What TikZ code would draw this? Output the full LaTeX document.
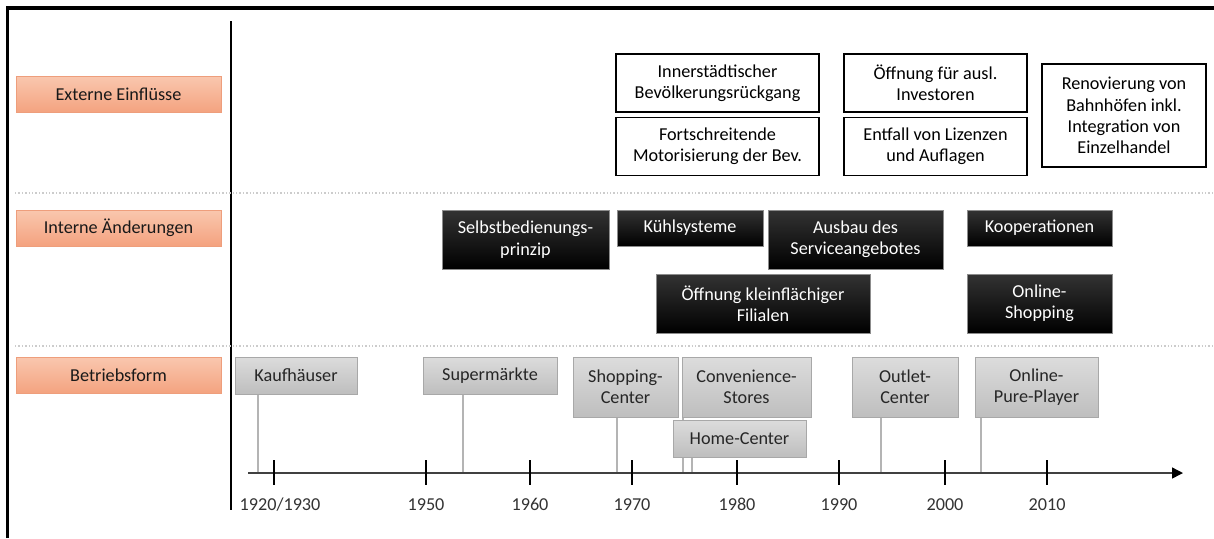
\documentclass[tikz,border=0pt]{standalone}
\usepackage{fontspec}
\setmainfont{Carlito}
\usetikzlibrary{arrows.meta,positioning,backgrounds}
\newlength\px \setlength\px{0.5pt}
\definecolor{orTop}{HTML}{F9C7AE}
\definecolor{orBot}{HTML}{F4A27F}
\definecolor{orLine}{HTML}{EE9E7C}
\definecolor{grTop}{HTML}{DCDCDC}
\definecolor{grBot}{HTML}{BEBEBE}
\definecolor{grLine}{HTML}{A8A8A8}
\definecolor{stemGray}{HTML}{B4B4B4}
\begin{document}
\begin{tikzpicture}[x=0.5pt,y=-0.5pt,font=\fontsize{9.1}{10.7}\selectfont,
  cat/.style={draw=orLine,top color=orTop,bottom color=orBot,text=black!90,minimum width=205\px,minimum height=36\px,inner sep=0pt},
  ext/.style={draw,line width=0.7pt,fill=white,align=center,inner sep=0pt},
  intern/.style={draw=black!45,top color=black!80,bottom color=black,text=white,align=center,inner sep=0pt},
  form/.style={draw=grLine,top color=grTop,bottom color=grBot,text=black!85,align=center,inner sep=0pt},
  sz/.style 2 args={minimum width=#1\px,minimum height=#2\px},
  stem/.style={stemGray,line width=0.6pt},
  sepline/.style={gray!40,densely dotted,line width=0.7pt},
  yearlbl/.style={text=black!80,anchor=base,inner sep=0pt}]
\useasboundingbox (0,0) rectangle (1214,538);
% frame, separators
\draw[line width=1.6pt] (7.5,538) -- (7.5,8) -- (1214,8);
\draw[line width=0.55pt] (231,21) -- (231,510);
\draw[sepline] (15,193) -- (1214,193); \draw[sepline] (15,346) -- (1214,346);
% row labels
\node[cat] (extL) at (118.5,94.5) {Externe Einflüsse};
\node[cat] (intL) at (118.5,228) {Interne Änderungen};
\node[cat] (betrL) at (118.5,375.5) {Betriebsform};
% externe Einfluesse
\node[ext,sz={203}{58}] (inner) at (717.5,83) {Innerstädtischer\\Bevölkerungsrückgang};
\node[ext,sz={203}{58},below=2pt of inner] (motor) {Fortschreitende\\Motorisierung der Bev.};
\node[ext,sz={183}{58}] (invest) at (935.5,83) {Öffnung für ausl.\\Investoren};
\node[ext,sz={183}{58},below=2pt of invest] (lizenz) {Entfall von Lizenzen\\und Auflagen};
\node[ext,sz={164}{103}] (bahnhof) at (1124,115.5) {Renovierung von\\Bahnhöfen inkl.\\Integration von\\Einzelhandel};
% interne Aenderungen
\node[intern,sz={167}{59}] (selbst) at (525.5,239.5) {Selbstbedienungs-\\prinzip};
\node[intern,sz={146}{36}] (kuehl) at (690,228) {Kühlsysteme};
\node[intern,sz={175}{59}] (ausbau) at (855.5,239.5) {Ausbau des\\Serviceangebotes};
\node[intern,sz={145}{36}] (koop) at (1039.5,228) {Kooperationen};
\node[intern,sz={214}{59}] (filialen) at (763,303.5) {Öffnung kleinflächiger\\Filialen};
\node[intern,sz={145}{59}] (online) at (1039.5,303.5) {Online-\\Shopping};
% Betriebsformen
\node[form,sz={122}{37}] (kauf) at (296,375.5) {Kaufhäuser};
\node[form,sz={134}{37}] (super) at (490,375.5) {Supermärkte};
\node[form,sz={105}{60}] (shop) at (625.5,387) {Shopping-\\Center};
\node[form,sz={129}{60}] (conv) at (746.5,387) {Convenience-\\Stores};
\node[form,sz={133}{37}] (home) at (739.5,438.5) {Home-Center};
\node[form,sz={106}{60}] (outlet) at (905,387) {Outlet-\\Center};
\node[form,sz={123}{60}] (pure) at (1036.5,387) {Online-\\Pure-Player};
% Zeitachse
\coordinate (ax0) at (248,473); \coordinate (ax1) at (1183,473);
\draw[black!75,line width=0.7pt,-{Triangle[length=5.5pt,width=5.5pt,color=black]}] (ax0) -- (ax1);
\foreach \x/\lx/\yr [count=\i] in {274/280/{1920/1930},426/426/1950,530/530/1960,632/632/1970,737/737/1980,839/839/1990,945/945/2000,1047/1047/2010}{
  \draw[line width=0.55pt] (\x,460) -- (\x,485);
  \node[yearlbl] (yr\i) at (\lx,510) {\yr};
}
\begin{scope}[on background layer]
\foreach \x/\b in {258/kauf,463/super,617/shop,683/conv,692/home,881/outlet,981/pure}{
  \coordinate (s\b) at (\x,473);
  \draw[stem] (s\b) -- (s\b |- \b.south);
}
\end{scope}
\end{tikzpicture}
\end{document}
